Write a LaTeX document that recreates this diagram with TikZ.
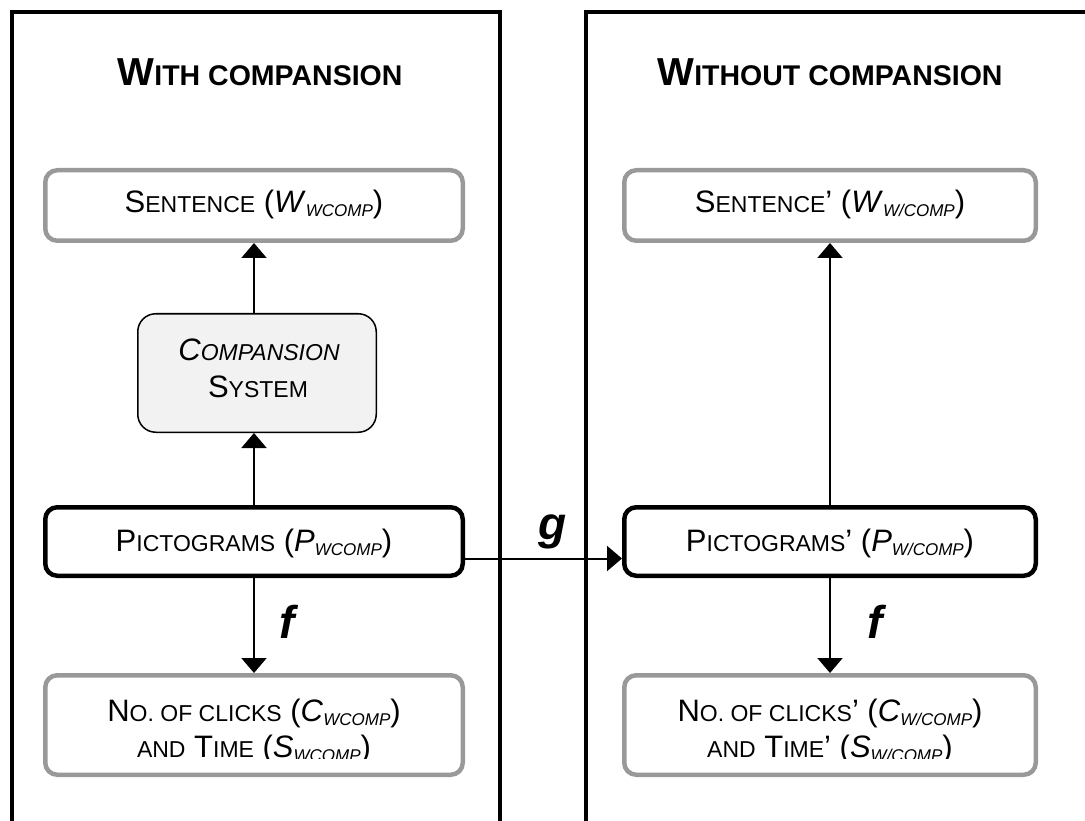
\documentclass[tikz,border=0pt]{standalone}
\usepackage{fontspec}
\setmainfont{Liberation Sans}
\usetikzlibrary{arrows.meta}

\definecolor{boxgray}{RGB}{153,153,153}
\definecolor{sysfill}{RGB}{242,242,242}

% faked small capitals: full-size initial, reduced capitals after it
\newcommand\bsz{\fontsize{31}{37}\selectfont}
\newcommand\smc[1]{{\fontsize{23}{37}\selectfont #1}}
\newcommand\sbs[1]{\raisebox{-4pt}{\fontsize{17}{20}\selectfont\itshape #1}}
\newcommand\tsz{\fontsize{39}{44}\selectfont\bfseries}
\newcommand\tsmc[1]{{\fontsize{28.5}{44}\selectfont\bfseries #1}}

\begin{document}
\begin{tikzpicture}[x=1pt,y=-1pt,
  frame/.style={draw=black, line width=4pt},
  graybox/.style={draw=boxgray, line width=4.5pt, rounded corners=12pt, inner sep=0pt},
  blackbox/.style={draw=black, line width=4.5pt, rounded corners=12pt, inner sep=0pt},
  sysbox/.style={draw=black, line width=1.5pt, fill=sysfill, rounded corners=18pt,
    minimum width=238.5pt, minimum height=118.5pt, inner sep=0pt},
  leftw/.style={minimum width=417.5pt},
  rightw/.style={minimum width=411.5pt},
  txt/.style={anchor=base, inner sep=0pt, font=\bsz},
  ttl/.style={anchor=base, inner sep=0pt, font=\tsz},
  fn/.style={anchor=base, inner sep=0pt, font=\fontsize{46}{50}\selectfont\bfseries\itshape},
  flow/.style={line width=2pt, -{Triangle[width=25pt,length=15pt]}}]

\useasboundingbox (0,0) rectangle (1085,821);
\clip (0,0) rectangle (1085,821);

% the two panels
\draw[frame] (12,12) rectangle (500,850);
\draw[frame] (586,12) rectangle (1110,850);

\node[ttl] (titleL) at (260,86) {W\tsmc{ITH COMPANSION}};
\node[ttl] (titleR) at (830,86) {W\tsmc{ITHOUT COMPANSION}};

% left panel
\node[graybox, leftw, minimum height=70.5pt] (sentL) at (254,205.5) {};
\node[txt] (sentLt) at (254,213) {S\smc{ENTENCE} (\textit{W}\sbs{WCOMP})};

\node[sysbox] (comp) at (257,373) {};
\node[txt] (compA) at (259,360) {\itshape C\smc{OMPANSION}};
\node[txt] (compB) at (258,397) {S\smc{YSTEM}};

\node[blackbox, leftw, minimum height=68.5pt] (pictL) at (254,541.5) {};
\node[txt] (pictLt) at (254,551) {P\smc{ICTOGRAMS} (\textit{P}\sbs{WCOMP})};

\node[graybox, leftw, minimum height=99.5pt] (clicksL) at (254,725) {};

% right panel
\node[graybox, rightw, minimum height=70.5pt] (sentR) at (830,205.5) {};
\node[txt] (sentRt) at (830,213) {S\smc{ENTENCE}’ (\textit{W}\sbs{W/COMP})};

\node[blackbox, rightw, minimum height=68.5pt] (pictR) at (830,541.5) {};
\node[txt] (pictRt) at (830,551) {P\smc{ICTOGRAMS}’ (\textit{P}\sbs{W/COMP})};

\node[graybox, rightw, minimum height=99.5pt] (clicksR) at (830,725) {};

% the lower text lines are cut off just under their baseline
\begin{scope}
  \clip (0,0) rectangle (1085,758);
  \node[txt] (clicksLa) at (254,721) {N\smc{O. OF CLICKS} (\textit{C}\sbs{WCOMP})};
  \node[txt] (clicksLb) at (254,757) {\smc{AND} T\smc{IME} (\textit{S}\sbs{WCOMP})};
  \node[txt] (clicksRa) at (830,721) {N\smc{O. OF CLICKS}’ (\textit{C}\sbs{W/COMP})};
  \node[txt] (clicksRb) at (830,757) {\smc{AND} T\smc{IME}’ (\textit{S}\sbs{W/COMP})};
\end{scope}

% connectors
\draw[flow] (sentL.south |- comp.north) -- (sentL.south);
\draw[flow] (pictL.north) -- (pictL.north |- comp.south);
\draw[flow] (pictL.south) -- (clicksL.north);
\draw[flow] (pictR.north) -- (sentR.south);
\draw[flow] (pictR.south) -- (clicksR.north);
\draw[flow] ([yshift=-17pt]pictL.east) -- ([yshift=-17pt]pictR.west);

\node[fn] (fL) at (287,638) {f};
\node[fn] (fR) at (875,638) {f};
\node[fn] (g) at (553,539) {g};
\end{tikzpicture}
\end{document}
